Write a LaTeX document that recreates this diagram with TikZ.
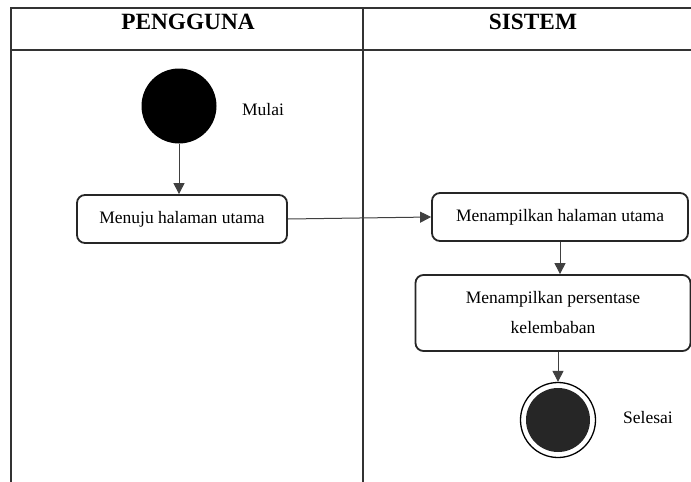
\documentclass[tikz,border=0pt]{standalone}
\usepackage{fontspec}
\setmainfont{Liberation Serif}
\usetikzlibrary{arrows.meta}
\begin{document}
\begin{tikzpicture}[x=1pt,y=-1pt,
  lane/.style={draw=black!80,line width=1.1pt},
  act/.style={draw=black!85,line width=1.8pt,rounded corners=8pt,align=center,inner sep=0pt,
    font=\fontsize{17.5}{30}\selectfont},
  flow/.style={draw=black!75,line width=1pt,-{Triangle[length=11pt,width=11pt]}},
  lbl/.style={font=\fontsize{17.5}{21}\selectfont,inner sep=0pt},
  head/.style={font=\bfseries\fontsize{23.3}{28}\selectfont,inner sep=0pt}]
\useasboundingbox (0,0) rectangle (691,482);
% swimlanes
\draw[lane] (11,482) -- (11,8) -- (691,8);
\draw[lane] (11,50) -- (691,50);
\draw[lane] (363,8) -- (363,482);
\node[head] (h1) at (188,22) {PENGGUNA};
\node[head] (h2) at (533,22) {SISTEM};
% start
\node[circle,fill=black,minimum size=75pt,inner sep=0pt] (start) at (179,106) {};
\node[lbl] (mulai) at (263,110) {Mulai};
% activities
\node[act,minimum width=210pt,minimum height=48pt] (a1) at (182,219) {Menuju halaman utama};
\node[act,minimum width=256pt,minimum height=48pt] (a2) at (560,217) {Menampilkan halaman utama};
\node[act,minimum width=275pt,minimum height=76pt] (a3) at (553,313) {Menampilkan persentase\\kelembaban};
% end
\node[circle,draw=black,line width=1.3pt,minimum size=75pt,inner sep=0pt] (end) at (558,420) {};
\node[circle,fill=black!85,minimum size=64pt,inner sep=0pt] (endin) at (end.center) {};
\node[lbl] (selesai) at (648,418) {Selesai};
% flows
\draw[flow] (start) -- (start|-a1.north);
\draw[flow] (a1.east) -- (a2.west);
\draw[flow] (a2.south) -- (a2.south|-a3.north);
\draw[flow] (end|-a3.south) -- (end.north);
\end{tikzpicture}
\end{document}
